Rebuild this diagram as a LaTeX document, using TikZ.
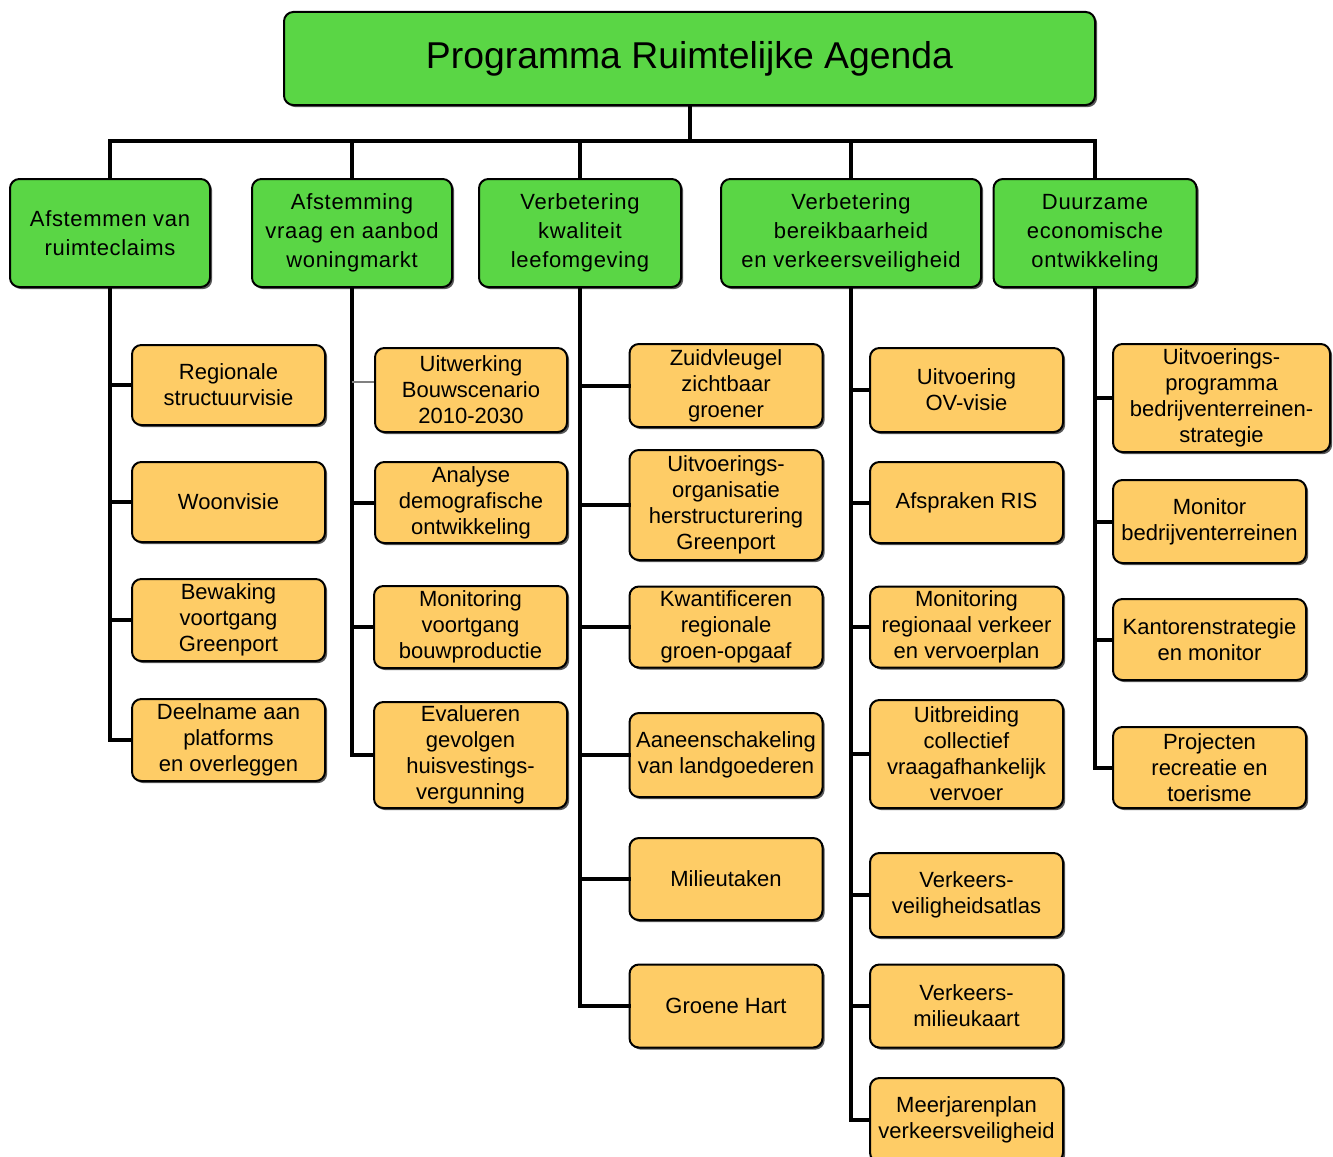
\documentclass[tikz,border=0pt]{standalone}
\usepackage{fontspec}
\setmainfont{Liberation Sans}
\newfontfamily\spacedfont[LetterSpace=3]{Liberation Sans}
\usetikzlibrary{shadows}
\definecolor{boxgreen}{RGB}{90,214,69}
\definecolor{boxorange}{RGB}{254,204,102}
\begin{document}
\begin{tikzpicture}[x=0.75pt,y=-0.75pt,
  basebox/.style={draw=black, line width=1.5pt, rounded corners=7pt, inner sep=0pt, align=center,
    general shadow={fill=black!65, shadow xshift=1.6pt, shadow yshift=-1.6pt}},
  sz/.style 2 args={minimum width=#1*0.75pt, minimum height=#2*0.75pt},
  topbox/.style={basebox, fill=boxgreen, font=\fontsize{28}{32}\selectfont},
  mainbox/.style={basebox, fill=boxgreen, font=\spacedfont\fontsize{16.5}{21.75}\selectfont},
  subbox/.style={basebox, fill=boxorange, font=\fontsize{16.5}{19.5}\selectfont},
  conn/.style={line width=3pt, draw=black, line cap=rect, line join=miter},
  thinconn/.style={line width=1.5pt, draw=black!50}
]
\useasboundingbox (0,0) rectangle (1333,1156);

% top
\node[topbox, sz={811}{93}] (top) at (689.5,58.5) {Programma Ruimtelijke Agenda};

% level 1
\node[mainbox, sz={200}{108}] (l1) at (110,233) {Afstemmen van\\ruimteclaims};
\node[mainbox, sz={200}{108}] (l2) at (352,233) {Afstemming\\vraag en aanbod\\woningmarkt};
\node[mainbox, sz={202}{108}] (l3) at (580,233) {Verbetering\\kwaliteit\\leefomgeving};
\node[mainbox, sz={260}{108}] (l4) at (851,233) {Verbetering\\bereikbaarheid\\en verkeersveiligheid};
\node[mainbox, sz={203}{108}] (l5) at (1095,233) {Duurzame\\economische\\ontwikkeling};

% column 1
\node[subbox, sz={193}{80}] (c11) at (228.5,385) {Regionale\\structuurvisie};
\node[subbox, sz={193}{80}] (c12) at (228.5,502) {Woonvisie};
\node[subbox, sz={193}{82}] (c13) at (228.5,620) {Bewaking\\voortgang\\Greenport};
\node[subbox, sz={193}{82}] (c14) at (228.5,740) {Deelname aan\\platforms\\en overleggen};

% column 2
\node[subbox, sz={192}{84}] (c21) at (471,390) {Uitwerking\\Bouwscenario\\2010-2030};
\node[subbox, sz={192}{81}] (c22) at (471,502.5) {Analyse\\demografische\\ontwikkeling};
\node[subbox, sz={193}{82}] (c23) at (470.5,627) {Monitoring\\voortgang\\bouwproductie};
\node[subbox, sz={193}{106}] (c24) at (470.5,755) {Evalueren\\gevolgen\\huisvestings-\\vergunning};

% column 3
\node[subbox, sz={193}{83}] (c31) at (726,385.5) {Zuidvleugel\\zichtbaar\\groener};
\node[subbox, sz={193}{110}] (c32) at (726,505) {Uitvoerings-\\organisatie\\herstructurering\\Greenport};
\node[subbox, sz={193}{81}] (c33) at (726,627) {Kwantificeren\\regionale\\groen-opgaaf};
\node[subbox, sz={193}{84}] (c34) at (726,755) {Aaneenschakeling\\van landgoederen};
\node[subbox, sz={193}{82}] (c35) at (726,879) {Milieutaken};
\node[subbox, sz={193}{83}] (c36) at (726,1006) {Groene Hart};

% column 4
\node[subbox, sz={193}{84}] (c41) at (966.5,390) {Uitvoering\\OV-visie};
\node[subbox, sz={193}{81}] (c42) at (966.5,502.5) {Afspraken RIS};
\node[subbox, sz={193}{81}] (c43) at (966.5,627) {Monitoring\\regionaal verkeer\\en vervoerplan};
\node[subbox, sz={193}{108}] (c44) at (966.5,754) {Uitbreiding\\collectief\\vraagafhankelijk\\vervoer};
\node[subbox, sz={193}{84}] (c45) at (966.5,895) {Verkeers-\\veiligheidsatlas};
\node[subbox, sz={193}{83}] (c46) at (966.5,1006) {Verkeers-\\milieukaart};
\node[subbox, sz={193}{84}] (c47) at (966.5,1120) {Meerjarenplan\\verkeersveiligheid};

% column 5
\node[subbox, sz={217}{108}] (c51) at (1221.5,398) {Uitvoerings-\\programma\\bedrijventerreinen-\\strategie};
\node[subbox, sz={193}{83}] (c52) at (1209.5,521.5) {Monitor\\bedrijventerreinen};
\node[subbox, sz={193}{81}] (c53) at (1209.5,639.5) {Kantorenstrategie\\en monitor};
\node[subbox, sz={193}{81}] (c54) at (1209.5,767.5) {Projecten\\recreatie en\\toerisme};

% top connectors
\coordinate (bus) at (689.5,141);
\draw[conn] (top.south) -- (bus);
\draw[conn] (l1.north) -- (l1.north |- bus) -- (l5.north |- bus) -- (l5.north);
\foreach \n in {l2,l3,l4} \draw[conn] (\n.north) -- (\n.north |- bus);

% column connectors
\draw[conn] (l1.south) -- (l1.south |- c14.west) -- (c14.west);
\foreach \n in {c11,c12,c13} \draw[conn] (l1.south |- \n.west) -- (\n.west);

\draw[conn] (l2.south) -- (l2.south |- c24.west) -- (c24.west);
\coordinate (c21in) at (c21.west |- 0,382);
\draw[thinconn] (l2.south |- c21in) -- (c21in);
\foreach \n in {c22,c23} \draw[conn] (l2.south |- \n.west) -- (\n.west);

\draw[conn] (l3.south) -- (l3.south |- c36.west) -- (c36.west);
\foreach \n in {c31,c32,c33,c34,c35} \draw[conn] (l3.south |- \n.west) -- (\n.west);

\draw[conn] (l4.south) -- (l4.south |- c47.west) -- (c47.west);
\foreach \n in {c41,c42,c43,c44,c45,c46} \draw[conn] (l4.south |- \n.west) -- (\n.west);

\draw[conn] (l5.south) -- (l5.south |- c54.west) -- (c54.west);
\foreach \n in {c51,c52,c53} \draw[conn] (l5.south |- \n.west) -- (\n.west);
\end{tikzpicture}
\end{document}
